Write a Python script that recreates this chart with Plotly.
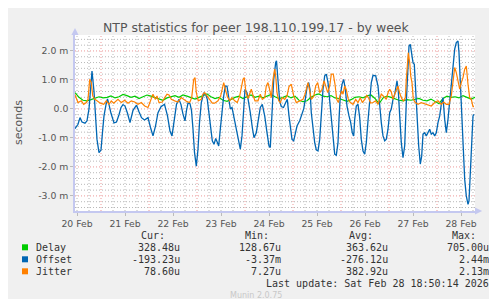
import numpy as np
import pandas as pd
import plotly.graph_objects as go

# --- data (values in milliseconds, time in 30-min slots since 20 Feb 00:00) ---
START = pd.Timestamp("2026-02-20 00:00")

delay_slot = list(range(22, 423, 4))
delay_ms = [0.56, 0.40, 0.30, 0.28, 0.32, 0.36, 0.42, 0.38, 0.40, 0.45, 0.38,
            0.42, 0.50, 0.46, 0.40, 0.44, 0.36, 0.42, 0.48, 0.44, 0.40,
            0.35, 0.30, 0.38, 0.42, 0.46, 0.40, 0.48, 0.44, 0.38, 0.34,
            0.40, 0.46, 0.52, 0.42, 0.36, 0.40, 0.30, 0.26, 0.34, 0.40,
            0.44, 0.36, 0.42, 0.48, 0.40, 0.44, 0.38, 0.45, 0.50, 0.42,
            0.36, 0.40, 0.46, 0.38, 0.44, 0.30, 0.25, 0.28, 0.40, 0.48,
            0.52, 0.44, 0.42, 0.46, 0.38, 0.36, 0.30, 0.26, 0.32, 0.40,
            0.42, 0.38, 0.45, 0.48, 0.36, 0.18, 0.38, 0.44, 0.40, 0.34,
            0.30, 0.28, 0.32, 0.30, 0.34, 0.36, 0.30, 0.28, 0.34, 0.26,
            0.18, 0.36, 0.44, 0.40, 0.42, 0.38, 0.46, 0.40, 0.34, 0.40, 0.33]

offset_slot = [22, 25, 27, 29, 32, 34, 36, 37.5, 39, 41,
               42.5, 44, 46, 48, 49.5, 51, 53, 54.5, 56, 58,
               61, 63.5, 66, 68, 70, 72, 74.5, 77, 80, 83.5,
               86, 88.5, 91.5, 95, 97.5, 100, 102.5, 105, 108, 111.5,
               114.5, 117, 119, 121, 123.5, 126, 128, 130, 132, 133.5,
               135, 137, 138.5, 140, 141.5, 143.3, 145, 146.5, 148.3, 150.7,
               152.7, 154.3, 156, 157.7, 159.3, 161, 162.7, 164.3, 165.7, 167.3,
               169, 170.7, 172.3, 174, 175.7, 177.3, 179, 180.7, 183.3, 185.7,
               187.3, 189, 190.7, 192, 194, 196, 197.3, 199.3, 201, 203.3,
               205.3, 207.3, 209.3, 211.7, 214, 216, 217.3, 219, 220.7, 222.7,
               223.5, 225, 226.7, 228.3, 230.5, 232.7, 234.3, 236, 237.3, 239,
               240.7, 242.3, 244, 246.7, 249, 250.7, 252.3, 254, 255.7, 257,
               258.3, 260, 261.7, 263.3, 265, 266.7, 268.3, 270, 271.7, 273.3,
               275, 276.7, 278.3, 280, 281.7, 283.3, 285, 286, 287.3, 289,
               290.7, 292.3, 294, 296, 297.7, 299.3, 300.7, 301.7, 303.3, 305,
               306.7, 308.3, 310, 311.7, 313.3, 315, 316.7, 318.3, 320, 322.7,
               325, 326.7, 328.3, 330, 331.7, 333.3, 335, 336.7, 338.3, 340,
               341.7, 344, 345.3, 346.7, 348.3, 350, 351.7, 353.3, 354.7, 356,
               357.3, 358.7, 360, 361.3, 362.7, 364, 365.7, 367.3, 368.7, 370,
               371.7, 373.3, 375, 376.7, 378.3, 380, 381.7, 383.3, 385, 386.7,
               388.3, 390, 391.7, 393.3, 395, 396.7, 398.3, 400, 401.7, 403.3,
               405, 406, 407.3, 408.7, 410, 411.7, 413.3, 415, 416, 417.3,
               418.7, 420, 421]
offset_ms = [-0.68, -0.53, -0.30, -0.45, -0.49, -0.41, 0.00, 0.80, 1.31, 0.60,
             -0.25, -1.05, -1.51, -1.42, -0.80, -0.24, 0.15, 0.35, 0.15, -0.15,
             -0.48, -0.45, -0.20, 0.05, 0.15, 0.10, -0.15, -0.47, -0.05, 0.13,
             -0.10, -0.30, -0.38, -0.30, -0.64, -0.93, -0.59, -0.13, 0.08, 0.16,
             -0.24, -0.76, -0.93, -0.36, 0.16, 0.33, 0.15, -0.18, -0.41, -0.05,
             0.20, 0.18, -0.05, -0.70, -1.50, -1.97, -1.39, -0.47, 0.22, 0.54,
             0.50, 0.33, -0.24, -0.64, -1.10, -1.22, -1.02, -1.15, -1.28, -0.70,
             0.00, 0.45, 0.79, 0.79, 0.40, 0.00, 0.05, -0.24, -0.70, -1.16,
             -1.39, -0.93, 0.22, 0.68, 0.56, 0.22, -0.13, -0.64, -0.99, -0.82,
             -0.36, 0.05, 0.16, -0.24, -0.82, -1.28, -1.33, -0.36, 1.02, 1.60,
             1.66, 0.98, 0.28, 0.08, 0.05, 0.22, 0.33, -0.24, -0.70, -1.05,
             -1.10, -0.82, -0.59, -0.41, -0.18, 0.00, 0.33, 0.74, 0.91, 0.68,
             -0.13, -0.70, -1.16, -1.41, -1.45, -1.05, -0.13, 0.68, 1.14, 1.20,
             0.91, 0.22, -0.36, -1.05, -1.56, -1.60, -1.16, -0.36, 0.45, 0.85,
             1.02, 0.68, 0.10, -0.24, -0.47, -0.82, -0.93, -0.36, 0.10, 0.16,
             -0.30, -1.05, -1.45, -1.56, -1.16, -0.41, 0.33, 0.91, 1.16, 1.14,
             0.79, 0.10, -0.47, -0.93, -1.10, -1.04, -0.70, -0.13, 0.00, 0.33,
             0.50, 0.97, 0.62, -0.24, -1.16, -1.68, -1.27, 0.22, 1.48, 2.17,
             2.23, 1.94, 1.60, 1.54, 0.68, -0.36, -1.28, -1.90, -1.62, -0.87,
             -0.82, -0.93, -0.82, -0.70, -0.87, -0.82, -0.93, -0.82, -0.47, -0.24,
             0.16, 0.39, -0.36, -0.82, -0.36, 0.22, 0.68, 1.48, 2.06, 2.29,
             2.34, 1.94, 0.91, -0.59, -1.62, -2.43, -3.00, -3.29, -3.17, -2.20,
             -1.05, -0.24, -0.19]

jitter_slot = [21.7, 25, 28.3, 30.7, 33.3, 35, 36.7, 38.3, 39.7, 41.7,
               44, 47.3, 50.7, 53.3, 56, 58.3, 60.7, 65, 68.3, 71.7,
               75, 78.3, 81.7, 85, 88.3, 91.7, 95, 98.3, 100, 102.3,
               104, 106, 109.3, 111.7, 114, 116, 118.3, 121.7, 125, 128.3,
               130.7, 134, 136.7, 138.7, 140.7, 142, 143.3, 145.3, 148.3, 150,
               151.7, 154, 156.7, 159.3, 161.7, 165, 167.7, 169.3, 170.7, 172.3,
               174.3, 176.7, 179, 181.7, 184.3, 186.7, 188.3, 190, 191.3, 193,
               195, 196.7, 198.3, 200, 202, 205, 207.3, 209.3, 211.7, 213.3,
               215, 216.7, 218.3, 220, 221.7, 222.7, 224, 225.7, 227.3, 229.3,
               231.7, 234, 236, 238.3, 240.7, 243.3, 246.7, 250, 252, 253.7,
               255, 256.7, 258.3, 260.7, 262.7, 264.7, 266.7, 269, 271, 272.7,
               274.7, 276.7, 278.3, 280.3, 282, 283.7, 285.3, 287, 288.7, 290,
               291.7, 293.3, 295.3, 297.3, 300, 302.7, 305, 307.3, 309.3, 311.7,
               313.7, 315.7, 317.7, 320, 322.7, 325, 326.7, 328.3, 330.7, 333.3,
               335, 336.7, 338.3, 340, 341.7, 343.3, 345, 346.7, 348.7, 350.7,
               352.3, 353.3, 354.3, 355.3, 356.7, 357.7, 359, 360.3, 362.3, 365,
               368.3, 371.7, 375, 378.3, 381.7, 385, 388.3, 390.7, 393.3, 396,
               398.3, 400, 401.7, 403.3, 405, 406.7, 408.3, 410, 411.7, 413.3,
               415, 416.7, 418.3, 420, 421]
jitter_ms = [0.51, 0.22, 0.28, 0.16, 0.22, 0.33, 1.02, 0.91, 0.45, 0.33,
             0.28, 0.20, 0.16, 0.28, 0.16, 0.28, 0.20, 0.33, 0.22, 0.30,
             0.20, 0.28, 0.24, 0.16, 0.22, 0.10, 0.05, 0.39, 0.51, 0.33,
             0.45, 0.22, 0.24, 0.39, 0.51, 0.48, 0.33, 0.28, 0.24, 0.39,
             0.33, 0.25, 0.22, 0.39, 1.02, 1.08, 0.56, 0.28, 0.33, 0.51,
             0.56, 0.45, 0.33, 0.20, 0.20, 0.28, 0.45, 0.74, 0.91, 0.68,
             0.43, 0.28, 0.39, 0.28, 0.22, 0.45, 0.68, 1.02, 1.08, 0.56,
             0.36, 0.51, 0.68, 0.47, 0.28, 0.28, 0.51, 0.33, 0.39, 0.79,
             0.91, 0.66, 0.39, 1.02, 1.37, 1.14, 0.56, 0.28, 0.22, 0.39,
             0.33, 0.45, 0.77, 0.85, 0.45, 0.22, 0.28, 0.33, 0.51, 0.77,
             0.91, 0.62, 0.33, 0.43, 0.79, 0.91, 0.56, 0.68, 0.97, 0.79,
             0.56, 0.79, 1.20, 1.20, 0.85, 0.33, 0.22, 0.45, 0.62, 0.51,
             0.79, 0.66, 0.33, 0.22, 0.16, 0.33, 0.22, 0.39, 0.22, 0.33,
             0.47, 0.37, 0.20, 0.22, 0.28, 0.16, 0.33, 0.51, 0.43, 0.33,
             0.56, 0.68, 0.59, 0.33, 0.51, 0.62, 0.79, 0.54, 0.36, 0.28,
             0.39, 1.02, 1.66, 1.94, 1.60, 1.14, 0.91, 0.33, 0.22, 0.16,
             0.22, 0.18, 0.16, 0.10, 0.22, 0.28, 0.16, 0.24, 0.16, 0.16,
             0.45, 1.02, 1.43, 1.25, 0.91, 0.68, 0.91, 1.08, 1.37, 1.48,
             0.85, 0.39, 0.33, 0.08, 0.08]

y_tickvals = [-3, -2, -1, 0, 1, 2]
y_ticktext = ["-3.0 m", "-2.0 m", "-1.0 m", "0.0", "1.0 m", "2.0 m"]
y_minor = [round(-3.4 + 0.2 * k, 1) for k in range(30)]

series_names = ["Delay", "Offset", "Jitter"]
series_colors = ["#00CC00", "#0066B3", "#FF8000"]
cur_vals = ["328.48u", "-193.23u", "78.60u"]
min_vals = ["128.67u", "-3.37m", "7.27u"]
avg_vals = ["363.62u", "-276.12u", "382.92u"]
max_vals = ["705.00u", "2.44m", "2.13m"]


def to_time(slots):
    return START + pd.to_timedelta(np.array(slots, dtype=float) * 30, unit="min")


x0 = START + pd.Timedelta(hours=11)
x1 = START + pd.Timedelta(hours=211)

GRID = "#b8b8b8"
MAJOR = "#ec9a9a"
AXIS = "#c4c8f0"
TXT = "#555555"

fig = go.Figure()

# grid drawn as shapes (dotted, rrdtool style)
shapes = []
for v in y_minor:
    if abs(v - round(v)) > 1e-6:
        shapes.append(dict(type="line", xref="paper", yref="y", x0=0, x1=1, y0=v, y1=v,
                           line=dict(color=GRID, width=1, dash="1px,2px"), layer="below"))
for k in range(0, 34):
    t = START + pd.Timedelta(hours=12 + 6 * k)
    if t.hour != 0:
        shapes.append(dict(type="line", xref="x", yref="paper", x0=t, x1=t, y0=0, y1=1,
                           line=dict(color=GRID, width=1, dash="1px,2px"), layer="below"))
for v in y_tickvals:
    shapes.append(dict(type="line", xref="paper", yref="y", x0=0, x1=1, y0=v, y1=v,
                       line=dict(color=MAJOR, width=1, dash="1px,2px"), layer="below"))
for d in range(1, 9):
    t = START + pd.Timedelta(days=d)
    shapes.append(dict(type="line", xref="x", yref="paper", x0=t, x1=t, y0=0, y1=1,
                       line=dict(color=MAJOR, width=1, dash="1px,2px"), layer="below"))

fig.add_trace(go.Scatter(x=to_time(delay_slot), y=delay_ms, mode="lines",
                         line=dict(color=series_colors[0], width=1.2), hoverinfo="skip"))
fig.add_trace(go.Scatter(x=to_time(offset_slot), y=offset_ms, mode="lines",
                         line=dict(color=series_colors[1], width=1.3), hoverinfo="skip"))
fig.add_trace(go.Scatter(x=to_time(jitter_slot), y=jitter_ms, mode="lines",
                         line=dict(color=series_colors[2], width=1.2), hoverinfo="skip"))

fig.update_xaxes(
    type="date", range=[x0, x1],
    tick0=START + pd.Timedelta(hours=12), dtick=86400000, tickformat="%d %b",
    showgrid=False, zeroline=False,
    showline=True, linecolor=AXIS, linewidth=1.5,
    ticks="outside", ticklen=3, tickcolor="#bbbbbb",
    tickfont=dict(family="DejaVu Sans", size=9.3, color=TXT),
)
fig.update_yaxes(
    range=[-3.52, 2.55], tickmode="array", tickvals=y_tickvals, ticktext=y_ticktext,
    showgrid=False, zeroline=False, showline=True, linecolor=AXIS, linewidth=1.5,
    ticks="outside", ticklen=3, tickcolor="#bbbbbb",
    tickfont=dict(family="DejaVu Sans", size=9.3, color=TXT),
)

# axis arrows
shapes.append(dict(type="path", xref="paper", yref="paper",
                   path="M -0.009 1.0 L 0.009 1.0 L 0 1.04 Z",
                   fillcolor=AXIS, line=dict(width=0)))
shapes.append(dict(type="path", xref="paper", yref="paper",
                   path="M 1.0 0.02 L 1.0 -0.02 L 1.018 0 Z",
                   fillcolor=AXIS, line=dict(width=0)))


def px(xp):
    return (xp - 67) / 400.0


def py(yp):
    return (203 - yp) / 176.0


MONO = dict(family="DejaVu Sans Mono", size=10, color="#333333")
ann = []
ann.append(dict(text="NTP statistics for peer 198.110.199.17 - by week",
                x=px(248.5), y=py(19.3), xref="paper", yref="paper",
                xanchor="center", yanchor="middle", showarrow=False,
                font=dict(family="DejaVu Sans", size=12.5, color=TXT)))
ann.append(dict(text="seconds", x=px(11), y=py(114), xref="paper", yref="paper",
                xanchor="center", yanchor="middle", textangle=-90, showarrow=False,
                font=dict(family="DejaVu Sans", size=11, color=TXT)))
ann.append(dict(text="RRDTOOL / TOBI OETIKER", x=px(486), y=py(58),
                xref="paper", yref="paper", xanchor="center", yanchor="middle",
                textangle=90, showarrow=False,
                font=dict(family="DejaVu Sans", size=7, color="#bcbcbc")))

headers = [("Cur:", 159.3), ("Min:", 262.7), ("Avg:", 366.7), ("Max:", 470)]
for h, hx in headers:
    ann.append(dict(text=h, x=px(hx), y=py(227.7), xref="paper", yref="paper",
                    xanchor="right", yanchor="middle", showarrow=False, font=MONO))

row_y = [239.3, 251.3, 263.3]
col_x = [174, 275.3, 382.3, 482.7]
for i, name in enumerate(series_names):
    yy = py(row_y[i])
    shapes.append(dict(type="rect", xref="paper", yref="paper",
                       x0=px(14), x1=px(20), y0=py(row_y[i] - 3), y1=py(row_y[i] + 3),
                       fillcolor=series_colors[i], line=dict(width=0)))
    ann.append(dict(text=name, x=px(26), y=yy, xref="paper", yref="paper",
                    xanchor="left", yanchor="middle", showarrow=False, font=MONO))
    for vals, cx in zip([cur_vals, min_vals, avg_vals, max_vals], col_x):
        ann.append(dict(text=vals[i], x=px(cx), y=yy, xref="paper", yref="paper",
                        xanchor="right", yanchor="middle", showarrow=False, font=MONO))

ann.append(dict(text="Last update: Sat Feb 28 18:50:14 2026", x=px(482.7), y=py(275.3),
                xref="paper", yref="paper", xanchor="right", yanchor="middle",
                showarrow=False, font=MONO))
ann.append(dict(text="Munin 2.0.75", x=px(248), y=py(287.7), xref="paper", yref="paper",
                xanchor="center", yanchor="middle", showarrow=False,
                font=dict(family="DejaVu Sans", size=8, color="#c8c8c8")))

fig.update_layout(
    width=497, height=299,
    margin=dict(l=67, r=30, t=27, b=96),
    paper_bgcolor="#f0f0f0", plot_bgcolor="#ffffff",
    showlegend=False, shapes=shapes, annotations=ann,
)

fig.write_html("out.html", config={"displayModeBar": False})
